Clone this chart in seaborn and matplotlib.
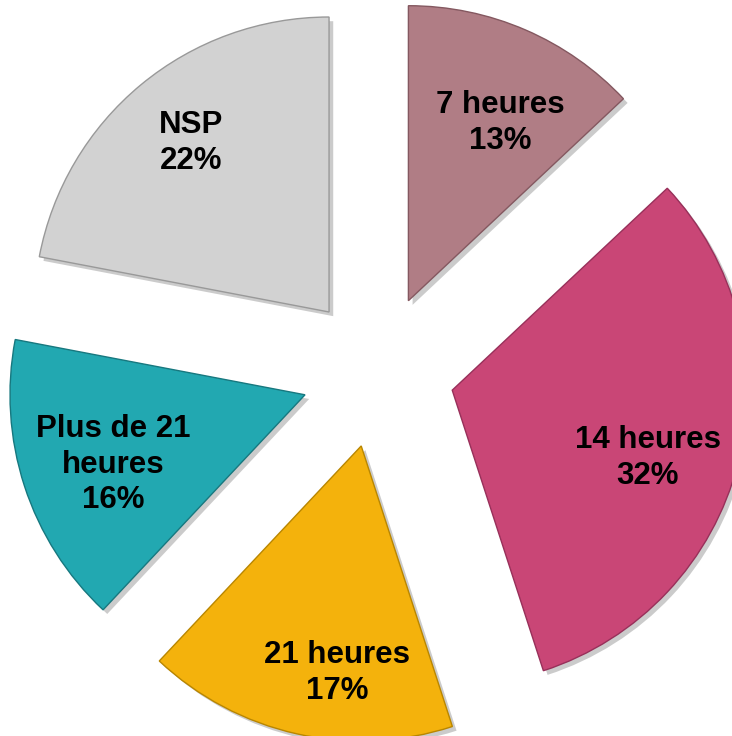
import matplotlib
matplotlib.use("Agg")
import matplotlib.pyplot as plt
import matplotlib.patheffects as pe
import seaborn as sns

# data (clockwise from 12 o'clock)
categories = ["7 heures", "14 heures", "21 heures", "Plus de 21\nheures", "NSP"]
values = [13, 32, 17, 16, 22]
colors = ["#B07D85", "#C94676", "#F4B20C", "#22A8B1", "#D2D2D2"]
edges = ["#845860", "#98305A", "#B98600", "#17787F", "#999999"]
# small nudges of the labels (axes units), layout only
label_shift = [(0.027, -0.058), (-0.034, -0.051), (0.075, -0.068), (0.034, -0.014), (-0.010, 0.017)]

sns.set_theme(style="white")
plt.rcParams["font.family"] = ["Liberation Sans", "DejaVu Sans"]

fig = plt.figure(figsize=(7.32, 7.36), dpi=100)
ax = fig.add_axes([0, 0, 1, 1])

labels = [f"{c}\n{v}%" for c, v in zip(categories, values)]
wedges, texts = ax.pie(values, labels=labels, colors=colors,
                       startangle=90, counterclock=False,
                       explode=[0.26] * len(values), radius=1.0,
                       labeldistance=0.72,
                       wedgeprops=dict(linewidth=1.0))

for w, ec in zip(wedges, edges):
    w.set_edgecolor(ec)
    w.set_path_effects([pe.SimplePatchShadow(offset=(3, -3), alpha=0.3, shadow_rgbFace="#555555"),
                        pe.Normal()])

for t, (dx, dy) in zip(texts, label_shift):
    x, y = t.get_position()
    t.set_position((x + dx, y + dy))
    t.set_ha("center")
    t.set_va("center")
    t.set_multialignment("center")
    t.set_fontsize(22.5)
    t.set_fontweight("bold")
    t.set_color("black")
    t.set_linespacing(1.25)

ax.set_xlim(-1.281, 1.2)
ax.set_ylim(-1.237, 1.258)
ax.axis("off")

fig.savefig("out.png", dpi=100)
